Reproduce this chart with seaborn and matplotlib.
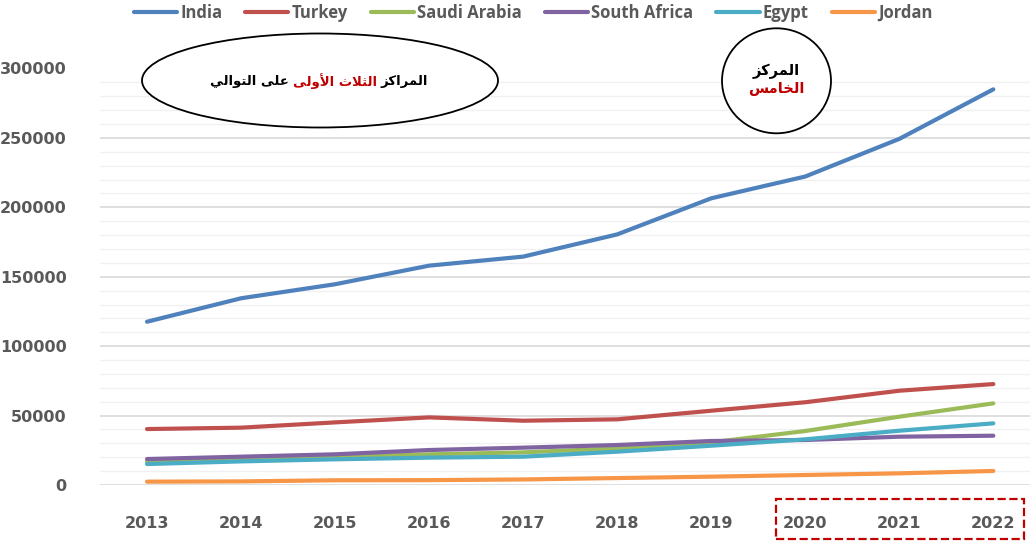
import matplotlib
matplotlib.use('Agg')
import matplotlib.pyplot as plt
from matplotlib.patches import Ellipse, Rectangle
from matplotlib.ticker import MultipleLocator
from matplotlib.lines import Line2D
import seaborn as sns
import pandas as pd

# data
years = [2013, 2014, 2015, 2016, 2017, 2018, 2019, 2020, 2021, 2022]
india = [117600, 134500, 144600, 158000, 164500, 180500, 206500, 222200, 249300, 285000]
turkey = [40300, 41300, 45100, 48700, 46300, 47300, 53500, 59600, 67900, 72700]
saudi = [17000, 18500, 20300, 22100, 23500, 26400, 30700, 38900, 49200, 58800]
south_africa = [18700, 20400, 22100, 25200, 26900, 28800, 31700, 32400, 34800, 35500]
egypt = [15100, 17000, 18500, 19700, 20400, 24000, 28300, 32900, 39100, 44400]
jordan = [2400, 2600, 3400, 3500, 4000, 5000, 6000, 7200, 8400, 10100]

countries = ['India', 'Turkey', 'Saudi Arabia', 'South Africa', 'Egypt', 'Jordan']
colors = ['#4F81BD', '#C0504D', '#9BBB59', '#8064A2', '#4BACC6', '#F79646']

ellipse_note = ['على التوالي', 'الثلاث الأولى', 'المراكز']   # left to right on screen
circle_note = ['المركز', 'الخامس']

# --- tiny arabic shaper (matplotlib has no shaping / bidi) ---
FORMS = {
    'ا': ('\uFE8D', '\uFE8E', None, None),
    'أ': ('\uFE83', '\uFE84', None, None),
    'ر': ('\uFEAD', '\uFEAE', None, None),
    'ز': ('\uFEAF', '\uFEB0', None, None),
    'و': ('\uFEED', '\uFEEE', None, None),
    'ى': ('\uFEEF', '\uFEF0', None, None),
    'ل': ('\uFEDD', '\uFEDE', '\uFEDF', '\uFEE0'),
    'م': ('\uFEE1', '\uFEE2', '\uFEE3', '\uFEE4'),
    'ك': ('\uFED9', '\uFEDA', '\uFEDB', '\uFEDC'),
    'ث': ('\uFE99', '\uFE9A', '\uFE9B', '\uFE9C'),
    'ع': ('\uFEC9', '\uFECA', '\uFECB', '\uFECC'),
    'ت': ('\uFE95', '\uFE96', '\uFE97', '\uFE98'),
    'ي': ('\uFEF1', '\uFEF2', '\uFEF3', '\uFEF4'),
    'خ': ('\uFEA5', '\uFEA6', '\uFEA7', '\uFEA8'),
    'س': ('\uFEB1', '\uFEB2', '\uFEB3', '\uFEB4'),
    'لا': ('\uFEFB', '\uFEFC', None, None),
    'لأ': ('\uFEF7', '\uFEF8', None, None),
}


def shape(s):
    tokens = []
    i = 0
    while i < len(s):
        if s[i:i + 2] in FORMS:
            tokens.append(s[i:i + 2])
            i += 2
        else:
            tokens.append(s[i])
            i += 1
    out = []
    for k, t in enumerate(tokens):
        if t not in FORMS:
            out.append(t)
            continue
        prev = tokens[k - 1] if k > 0 else None
        nxt = tokens[k + 1] if k + 1 < len(tokens) else None
        jp = prev in FORMS and FORMS[prev][2] is not None
        jn = FORMS[t][2] is not None and nxt in FORMS
        iso, fin, ini, med = FORMS[t]
        if jp and jn:
            out.append(med)
        elif jp:
            out.append(fin)
        elif jn:
            out.append(ini)
        else:
            out.append(iso)
    return ''.join(out)[::-1]


df = pd.DataFrame({
    'Year': years * 6,
    'Value': india + turkey + saudi + south_africa + egypt + jordan,
    'Country': [c for c in countries for _ in years],
})

sns.set_style('white')
plt.rcParams['font.family'] = ['DejaVu Sans']

W, H = 1030, 543
fig = plt.figure(figsize=(10.3, 5.43), dpi=100)
ax = fig.add_axes([100 / W, 1 - 485 / H, 1 - 100 / W, (485 - 68.5) / H])

sns.lineplot(data=df, x='Year', y='Value', hue='Country', hue_order=countries,
             palette=dict(zip(countries, colors)), linewidth=3.0, ax=ax,
             legend=False, solid_capstyle='round')

ax.set_xlim(2012.5, 2022.39)
ax.set_ylim(0, 300000)
ax.set_xticks(years)
ax.yaxis.set_major_locator(MultipleLocator(50000))
ax.yaxis.set_minor_locator(MultipleLocator(10000))
ax.grid(axis='y', which='major', color='#D9D9D9', linewidth=1.2)
ax.grid(axis='y', which='minor', color='#F1F1F1', linewidth=1.0)
ax.set_axisbelow(True)
for sp in ax.spines.values():
    sp.set_visible(False)
ax.tick_params(axis='y', which='both', length=0, pad=24, labelsize=11.5, labelcolor='#595959')
ax.tick_params(axis='x', length=0, pad=22, labelsize=11.5, labelcolor='#595959')
for lab in ax.get_xticklabels() + ax.get_yticklabels():
    lab.set_fontweight('bold')
ax.set_xlabel('')
ax.set_ylabel('')

handles = [Line2D([], [], color=c, linewidth=3.0, solid_capstyle='round') for c in colors]
fig.legend(handles, countries, loc='center', bbox_to_anchor=(533 / W, 1 - 13 / H),
           ncol=6, frameon=False, handlelength=2.6, handletextpad=0.18,
           columnspacing=1.38, prop={'family': 'Open Sans', 'weight': 'bold', 'size': 12},
           labelcolor='#595959')

# ellipse and circle notes
fig.add_artist(Ellipse((320 / W, 1 - 80.5 / H), 356 / W, 94 / H, transform=fig.transFigure,
                       facecolor='white', edgecolor='black', linewidth=1.3, zorder=5))
fig.add_artist(Ellipse((776.5 / W, 1 - 80.8 / H), 109 / W, 105 / H, transform=fig.transFigure,
                       facecolor='white', edgecolor='black', linewidth=1.3, zorder=5))

renderer = fig.canvas.get_renderer()
note_colors = ['black', '#C00000', 'black']
texts = []
for s, c in zip(ellipse_note, note_colors):
    t = fig.text(0, 1 - 81.5 / H, shape(s), color=c, fontsize=9.5, fontweight='bold',
                 ha='left', va='center', zorder=6)
    texts.append(t)
gap = 4
widths = [t.get_window_extent(renderer).width for t in texts]
total = sum(widths) + gap * (len(texts) - 1)
x0 = 319 - total / 2
for t, w in zip(texts, widths):
    t.set_x(x0 / W)
    x0 += w + gap

fig.text(776 / W, 1 - 71 / H, shape(circle_note[0]), color='black', fontsize=10.5,
         fontweight='bold', ha='center', va='center', zorder=6)
fig.text(776 / W, 1 - 89 / H, shape(circle_note[1]), color='#C00000', fontsize=10.5,
         fontweight='bold', ha='center', va='center', zorder=6)

# dashed box around the last three years
fig.add_artist(Rectangle((776 / W, 1 - 538.5 / H), 247.5 / W, 40 / H, transform=fig.transFigure,
                         fill=False, edgecolor='#C00000', linestyle='--', linewidth=1.6))

fig.savefig('out.png', dpi=100)
